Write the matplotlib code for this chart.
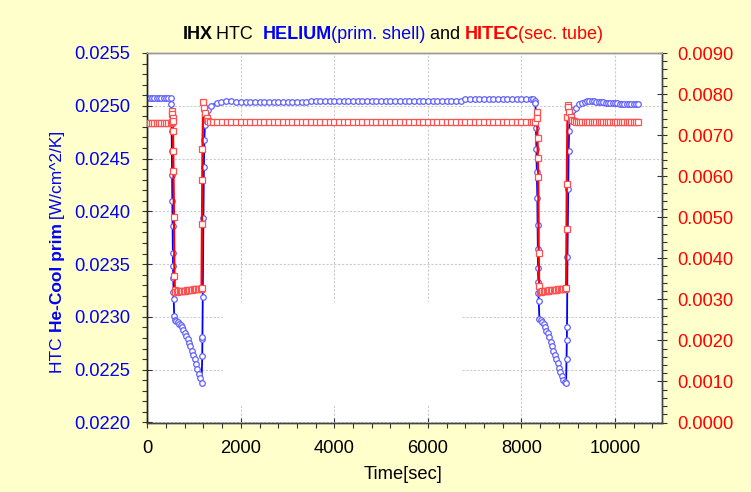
import matplotlib
matplotlib.use('Agg')
import matplotlib.pyplot as plt
from matplotlib.ticker import MultipleLocator, FormatStrFormatter
from matplotlib.patches import Rectangle

plt.rcParams['font.family'] = ['Liberation Sans', 'DejaVu Sans']

# ---------------- data ----------------
# HELIUM (primary shell) HTC  [W/cm^2/K]  -> left axis
t_he = [0, 50, 100, 150, 200, 250, 300, 350, 400, 450, 500,
        515, 520, 525, 530, 535, 540, 545, 550, 555, 560, 565, 575,
        590, 620, 650, 680, 710, 740, 770, 800, 830, 860, 890, 920, 950, 980, 1010, 1040, 1070, 1100, 1130, 1160,
        1175, 1178, 1180, 1185, 1200, 1210, 1220, 1232, 1265, 1300, 1370, 1480, 1580, 1680,
        1800, 1900, 2000, 2100, 2200, 2300, 2400, 2500, 2600, 2700, 2800, 2900, 3000, 3100, 3200, 3300,
        3400, 3500, 3600, 3700, 3800, 3900, 4000, 4100, 4200, 4300, 4400, 4500, 4600, 4700, 4800, 4900,
        5000, 5100, 5200, 5300, 5400, 5500, 5600, 5700, 5800, 5900, 6000, 6100, 6200, 6300, 6400, 6500,
        6600, 6700, 6800, 6900, 7000, 7100, 7200, 7300, 7400, 7500, 7600, 7700, 7800, 7900, 8000, 8100,
        8200, 8250,
        8290, 8300, 8310, 8320, 8330, 8340, 8345, 8350, 8355, 8360, 8365, 8370,
        8385, 8415, 8445, 8475, 8505, 8535, 8565, 8595, 8625, 8655, 8685, 8715, 8745, 8775, 8805, 8835, 8865, 8895, 8925, 8955,
        8965, 8970, 8975, 8985, 9000, 9010, 9020, 9035, 9055, 9100, 9165, 9235, 9300, 9350, 9400, 9450,
        9500, 9550, 9600, 9650, 9700, 9750, 9800, 9850, 9900, 9950, 10000, 10050, 10100, 10150, 10200,
        10250, 10300, 10350, 10400, 10450, 10500]
htc_he = [0.02507, 0.02507, 0.02507, 0.02507, 0.02507, 0.02507, 0.02507, 0.02507, 0.02507, 0.02507, 0.02507,
          0.02502, 0.02476, 0.02457, 0.02434, 0.02410, 0.02386, 0.02361, 0.02348, 0.02337, 0.02324, 0.02317, 0.02301,
          0.02297, 0.02296, 0.02295, 0.02293, 0.02292, 0.02290, 0.02288, 0.02285, 0.02282, 0.02279, 0.02275, 0.02272,
          0.02268, 0.02264, 0.02260, 0.02255, 0.02251, 0.02246, 0.02242, 0.02237,
          0.02263, 0.02279, 0.02281, 0.02319, 0.02394, 0.02442, 0.02468, 0.02482, 0.02493, 0.02496, 0.02500, 0.02503,
          0.02504, 0.02505,
          0.02505, 0.02504, 0.02504, 0.02504, 0.02504, 0.02504, 0.02504, 0.02504, 0.02504, 0.02504, 0.02504, 0.02504,
          0.02504, 0.02504, 0.02504, 0.02504,
          0.02504, 0.02505, 0.02505, 0.02505, 0.02505, 0.02505, 0.02505, 0.02505, 0.02505, 0.02505, 0.02505, 0.02505,
          0.02505, 0.02505, 0.02505, 0.02505,
          0.02505, 0.02505, 0.02505, 0.02505, 0.02505, 0.02505, 0.02505, 0.02505, 0.02505, 0.02505, 0.02505, 0.02505,
          0.02505, 0.02505, 0.02505, 0.02505,
          0.02505, 0.02505, 0.02506, 0.02506, 0.02506, 0.02506, 0.02506, 0.02506, 0.02506, 0.02506, 0.02506, 0.02506,
          0.02506, 0.02506, 0.02506, 0.02506,
          0.02506, 0.02506,
          0.02505, 0.02503, 0.02479, 0.02459, 0.02437, 0.02413, 0.02387, 0.02364, 0.02346, 0.02333, 0.02323, 0.02315,
          0.02298, 0.02297, 0.02295, 0.02293, 0.02290, 0.02287, 0.02285, 0.02281, 0.02276, 0.02272, 0.02268, 0.02264,
          0.02260, 0.02256, 0.02252, 0.02248, 0.02244, 0.02240, 0.02238, 0.02237,
          0.02260, 0.02278, 0.02290, 0.02357, 0.02421, 0.02457, 0.02476, 0.02488, 0.02493, 0.02496, 0.02498, 0.02502,
          0.02503, 0.02504, 0.02505, 0.02505,
          0.02505, 0.02505, 0.02504, 0.02504, 0.02504, 0.02504, 0.02503, 0.02503, 0.02503, 0.02503, 0.02503, 0.02503,
          0.02502, 0.02502, 0.02502,
          0.02502, 0.02502, 0.02502, 0.02502, 0.02502, 0.02502]

# HITEC (secondary tube) HTC -> right axis
t_hitec = [0, 50, 100, 150, 200, 250, 300, 350, 400, 450, 500,
           525, 530, 535, 540, 545, 550, 555, 560, 570, 580, 590,
           600, 630, 660, 690, 720, 750, 780, 810, 840, 870, 900, 930, 960, 990, 1020, 1050, 1080, 1110, 1140, 1160,
           1170, 1175, 1180, 1195, 1215, 1240, 1270, 1300, 1340,
           1400, 1500, 1600, 1700, 1800, 1900, 2000, 2100, 2200, 2300, 2400, 2500, 2600, 2700, 2800, 2900,
           3000, 3100, 3200, 3300, 3400, 3500, 3600, 3700, 3800, 3900, 4000, 4100, 4200, 4300, 4400, 4500,
           4600, 4700, 4800, 4900, 5000, 5100, 5200, 5300, 5400, 5500, 5600, 5700, 5800, 5900, 6000, 6100,
           6200, 6300, 6400, 6500, 6600, 6700, 6800, 6900, 7000, 7100, 7200, 7300, 7400, 7500, 7600, 7700,
           7800, 7900, 8000, 8100, 8200, 8250, 8290,
           8330, 8335, 8345, 8350, 8360, 8370, 8380,
           8390, 8420, 8450, 8480, 8510, 8540, 8570, 8600, 8630, 8660, 8690, 8720, 8750, 8780, 8810, 8840,
           8870, 8900, 8930, 8955,
           8965, 8970, 8985, 8990, 9000, 9020, 9055, 9090, 9130, 9165,
           9200, 9250, 9300, 9350, 9400, 9450, 9500, 9550, 9600, 9650, 9700, 9750, 9800, 9850, 9900, 9950,
           10000, 10050, 10100, 10150, 10200, 10250, 10300, 10350, 10400, 10450, 10500]
htc_hitec = [0.00730, 0.00730, 0.00730, 0.00730, 0.00730, 0.00730, 0.00730, 0.00730, 0.00730, 0.00730, 0.00730,
             0.00731, 0.00759, 0.00751, 0.00741, 0.00734, 0.00710, 0.00661, 0.00613, 0.00500, 0.00358, 0.00323,
             0.00319, 0.00319, 0.00320, 0.00320, 0.00320, 0.00321, 0.00321, 0.00321, 0.00322, 0.00322, 0.00323,
             0.00323, 0.00323, 0.00324, 0.00324, 0.00325, 0.00325, 0.00325, 0.00326, 0.00327,
             0.00483, 0.00591, 0.00666, 0.00780, 0.00767, 0.00753, 0.00741, 0.00734, 0.00732,
             0.00731, 0.00731, 0.00731, 0.00731, 0.00731, 0.00731, 0.00731, 0.00731, 0.00731, 0.00731, 0.00731,
             0.00731, 0.00731, 0.00731, 0.00731, 0.00731,
             0.00731, 0.00731, 0.00731, 0.00731, 0.00731, 0.00731, 0.00731, 0.00731, 0.00731, 0.00731, 0.00731,
             0.00731, 0.00731, 0.00731, 0.00731, 0.00731,
             0.00731, 0.00731, 0.00731, 0.00731, 0.00731, 0.00731, 0.00731, 0.00731, 0.00731, 0.00731, 0.00731,
             0.00731, 0.00731, 0.00731, 0.00731, 0.00731,
             0.00731, 0.00731, 0.00731, 0.00731, 0.00731, 0.00731, 0.00731, 0.00731, 0.00731, 0.00731, 0.00731,
             0.00731, 0.00731, 0.00731, 0.00731, 0.00731,
             0.00731, 0.00731, 0.00731, 0.00731, 0.00731, 0.00731, 0.00731,
             0.00757, 0.00742, 0.00692, 0.00645, 0.00599, 0.00412, 0.00332,
             0.00319, 0.00319, 0.00320, 0.00320, 0.00321, 0.00321, 0.00321, 0.00322, 0.00322, 0.00322, 0.00323,
             0.00323, 0.00323, 0.00324, 0.00324, 0.00325, 0.00325, 0.00325, 0.00326, 0.00327,
             0.00471, 0.00580, 0.00745, 0.00773, 0.00769, 0.00757, 0.00745, 0.00737, 0.00734, 0.00733,
             0.00732, 0.00732, 0.00732, 0.00732, 0.00732, 0.00732, 0.00732, 0.00732, 0.00732, 0.00732, 0.00732,
             0.00732, 0.00732, 0.00732, 0.00732, 0.00732,
             0.00732, 0.00732, 0.00732, 0.00732, 0.00732, 0.00732, 0.00732, 0.00732, 0.00732, 0.00732, 0.00732]

x_ticks = [0, 2000, 4000, 6000, 8000, 10000]
left_ticks = [0.0220, 0.0225, 0.0230, 0.0235, 0.0240, 0.0245, 0.0250, 0.0255]
right_ticks = [0.0000, 0.0010, 0.0020, 0.0030, 0.0040, 0.0050, 0.0060, 0.0070, 0.0080, 0.0090]

title_parts = [("IHX", "bold", "black"), (" HTC  ", "normal", "black"),
               ("HELIUM", "bold", "#0000FF"), ("(prim. shell)", "normal", "#0000FF"),
               (" and ", "normal", "black"),
               ("HITEC", "bold", "#FF0000"), ("(sec. tube)", "normal", "#FF0000")]
ylabel_parts = [("HTC ", "normal"), ("He-Cool prim", "bold"), (" [W/cm^2/K]", "normal")]
xlabel = "Time[sec]"

# ---------------- figure ----------------
W, H = 751, 492
BG = '#FFFFCC'
BLUE = '#0000FF'
RED = '#FF0000'
FS = 13.2

fig = plt.figure(figsize=(W / 100, H / 100), dpi=100, facecolor=BG)
L, R, T, B = 147.3, 661.7, 53.0, 422.5
ax = fig.add_axes([L / W, 1 - B / H, (R - L) / W, (B - T) / H])
ax.set_facecolor('white')
ax2 = ax.twinx()

ax.set_axisbelow(True)
ax.grid(True, color='#CCCCCC', linestyle=(0, (2, 1.5)), linewidth=0.8)
# blank box hiding the grid (empty legend area)
ax.add_patch(Rectangle((0.147, 0.050), 0.465, 0.276, transform=ax.transAxes,
                       facecolor='white', edgecolor='none', zorder=1))

ax.plot(t_he, htc_he, color=BLUE, lw=1.3, marker='o', ms=4.0, mfc='white',
        mec='#6060FF', mew=0.9, zorder=3)
ax2.plot(t_hitec, htc_hitec, color=RED, lw=1.6, marker='s', ms=4.0, mfc='white',
         mec='#FF5050', mew=0.9, zorder=3)

ax.set_xlim(0, 11000)
ax.set_ylim(0.0220, 0.0255)
ax2.set_ylim(0.0, 0.0090)

ax.set_xticks(x_ticks)
ax.set_yticks(left_ticks)
ax2.set_yticks(right_ticks)
ax.xaxis.set_minor_locator(MultipleLocator(400))
ax.yaxis.set_minor_locator(MultipleLocator(0.0001))
ax2.yaxis.set_minor_locator(MultipleLocator(0.0002))
ax.yaxis.set_major_formatter(FormatStrFormatter('%.4f'))
ax2.yaxis.set_major_formatter(FormatStrFormatter('%.4f'))

ax.tick_params(axis='x', which='major', direction='inout', length=7, width=0.8,
               labelsize=FS, colors='#333333', labelcolor='black', pad=9)
ax.tick_params(axis='x', which='minor', direction='out', length=3.5, width=0.8, colors='#333333')
ax.tick_params(axis='y', which='major', direction='inout', length=7, width=0.8,
               labelsize=FS, colors='#333333', labelcolor=BLUE, pad=9)
ax.tick_params(axis='y', which='minor', direction='out', length=3.5, width=0.8, colors='#333333')
ax2.tick_params(axis='y', which='major', direction='inout', length=7, width=0.8,
                labelsize=FS, colors='#333333', labelcolor=RED, pad=8)
ax2.tick_params(axis='y', which='minor', direction='out', length=3.5, width=0.8, colors='#333333')
ax.tick_params(axis='x', which='both', top=False)

for a in (ax, ax2):
    a.spines['left'].set_color('#222222')
    a.spines['bottom'].set_color('#444444')
    a.spines['right'].set_color('#444444')
    a.spines['top'].set_color('#999999')
    for s in a.spines.values():
        s.set_linewidth(1.0)

fig.canvas.draw()
renderer = fig.canvas.get_renderer()

# title (mixed styles), baseline at y=39.3 px, start x=182.7 px
x = 182.7
for s, w, c in title_parts:
    txt = fig.text(x / W, 1 - 39.3 / H, s, fontsize=13.0, fontweight=w, color=c,
                   ha='left', va='baseline')
    bb = txt.get_window_extent(renderer)
    x += bb.width - (1.5 if w == 'bold' else 0.0)

# y label (rotated, mixed styles), baseline x=61.7 px, start y=373 px (from top)
y = 373.0
for s, w in ylabel_parts:
    tmp = fig.text(0, 0, s, fontsize=12.5, fontweight=w)
    wpx = tmp.get_window_extent(renderer).width
    tmp.remove()
    fig.text(61.7 / W, 1 - y / H, s, fontsize=12.5, fontweight=w, color=BLUE,
             rotation=90, rotation_mode='anchor', ha='left', va='baseline')
    y -= wpx

fig.text(403 / W, 1 - 479.3 / H, xlabel, fontsize=13.2, color='black',
         ha='center', va='baseline')

fig.savefig('out.png', dpi=100, facecolor=BG)
